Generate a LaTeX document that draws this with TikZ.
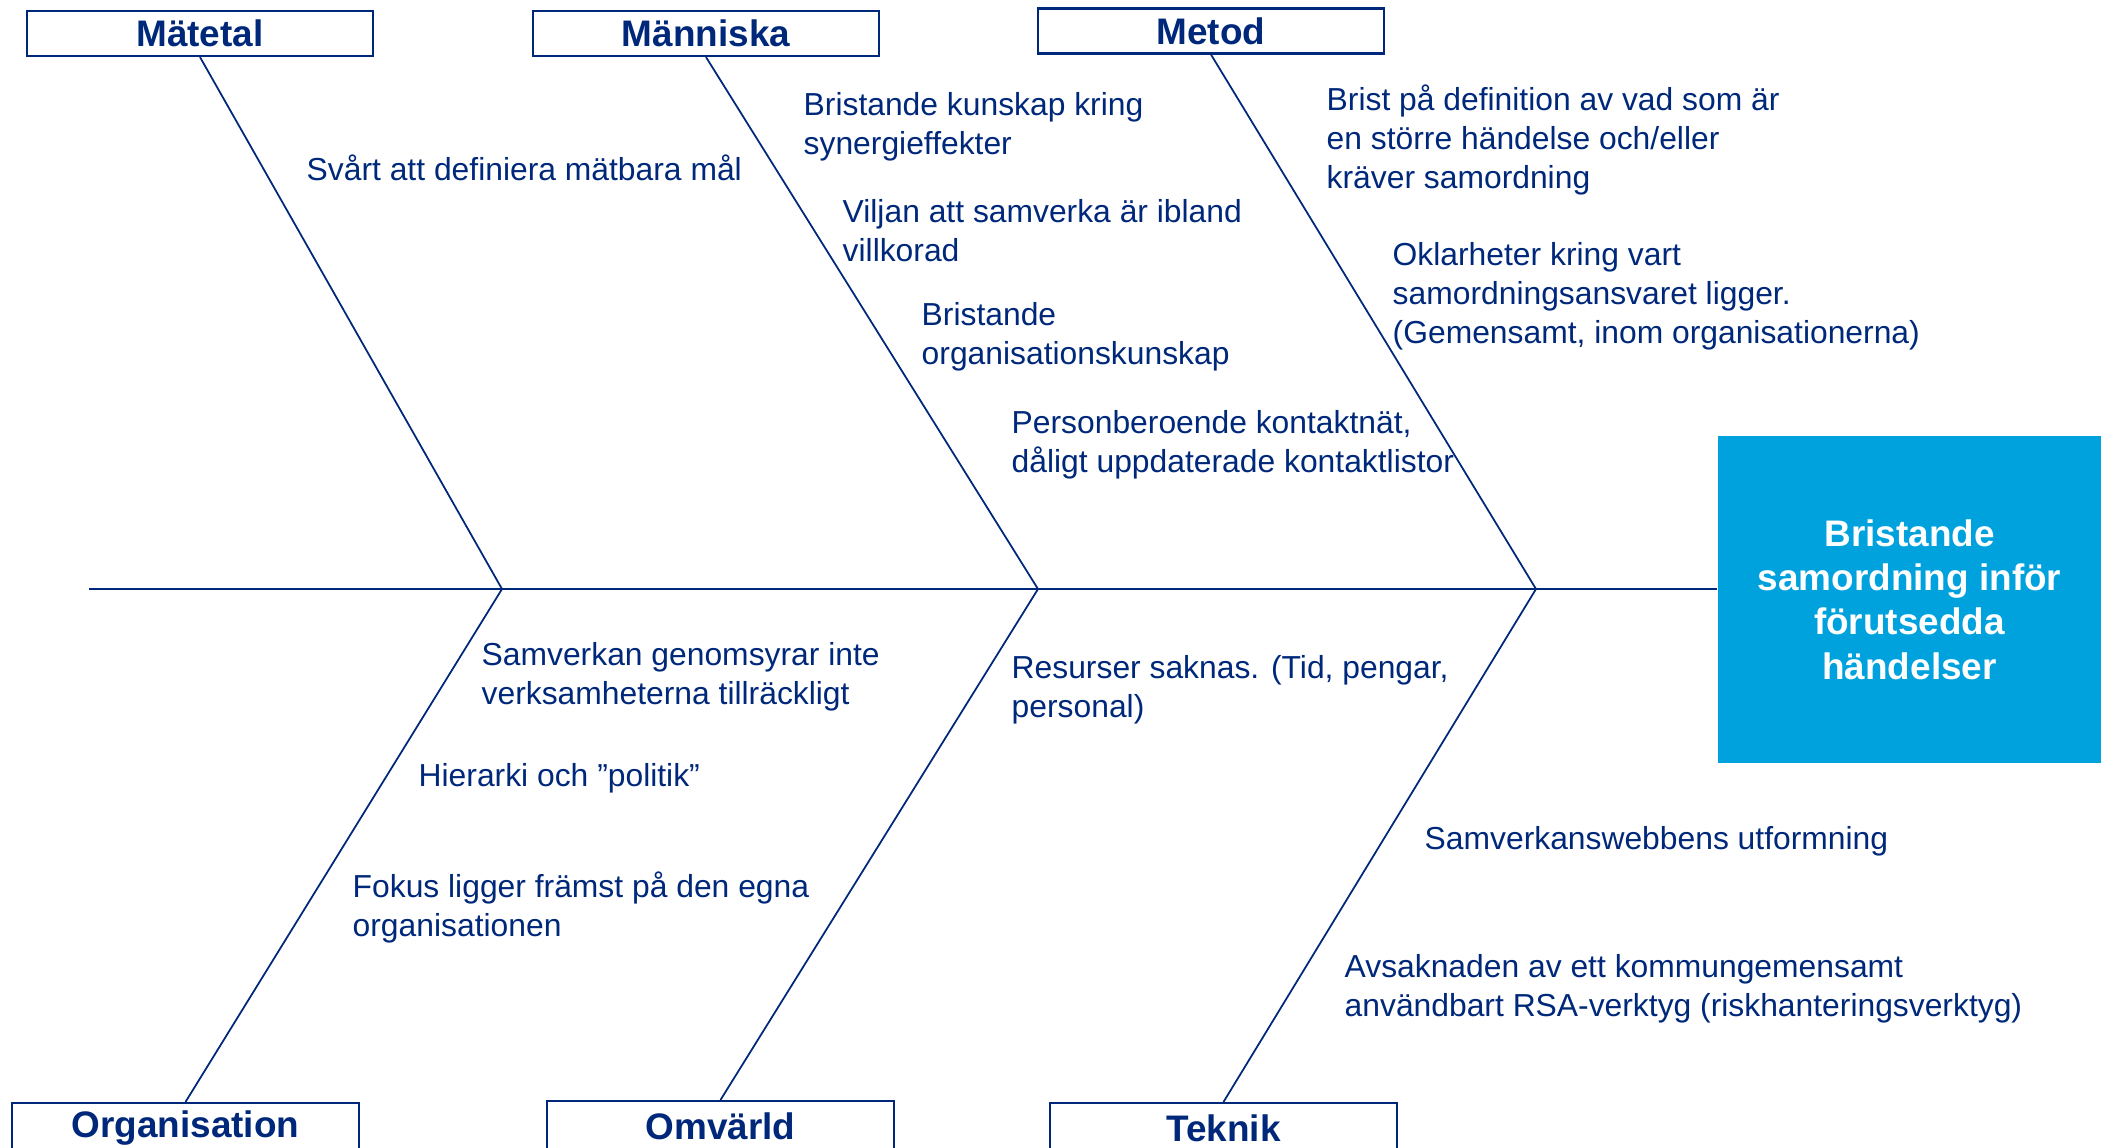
\documentclass[tikz,border=0pt]{standalone}
\usepackage{fontspec}
\setmainfont{Liberation Sans}
\definecolor{navy}{RGB}{0,40,122}
\definecolor{himmel}{RGB}{0,162,222}
\begin{document}
\begin{tikzpicture}[x=0.01cm,y=-0.01cm,
        rubrik/.style={draw=navy,line width=0.6pt,fill=white,minimum width=3.46cm,minimum height=0.45cm,inner sep=0,text=navy,font=\fontsize{10.5}{12}\selectfont\bfseries},
        orsak/.style={text=navy,align=left,inner sep=0,anchor=west,font=\fontsize{9.05}{11.1}\selectfont},
        ben/.style={navy,line width=0.5pt}]
            \useasboundingbox (0,0) rectangle (2105,1147);
            % huvudet
            \node[fill=himmel,minimum width=3.83cm,minimum height=3.27cm,text=white,align=center,font=\fontsize{10.5}{12.6}\selectfont\bfseries] (problem) at (1909.5,599.5) {Bristande\\samordning inför\\förutsedda\\händelser};
            % kategorier
            \node[rubrik] (matetal) at (200,33.5) {Mätetal};
            \node[rubrik] (manniska) at (706,33.5) {Människa};
            \node[rubrik] (metod) at (1211,31) {Metod};
            \node[rubrik,minimum height=0.5cm] (organisation) at (185.5,1128) {Organisation};
            \node[rubrik,minimum height=0.5cm] (omvarld) at (720.5,1126) {Omvärld};
            \node[rubrik,minimum height=0.5cm] (teknik) at (1223.5,1128) {Teknik};
            % ryggen och benen
            \coordinate (svans) at (89,589);
            \coordinate (m1) at (502,589);
            \coordinate (m2) at (1038,589);
            \coordinate (m3) at (1536,589);
            \draw[ben] (svans) -- (svans -| problem.west);
            \draw[ben] (matetal.south) -- (m1) -- (organisation.north);
            \draw[ben] (manniska.south) -- (m2) -- (omvarld.north);
            \draw[ben] (metod.south) -- (m3) -- (teknik.north);
            % orsaker ovanfor
            \node[orsak] (o1) at (306,168) {Svårt att definiera mätbara mål};
            \node[orsak] (o2) at (803,127) {Bristande kunskap kring\\synergieffekter};
            \node[orsak] (o3) at (842,231) {Viljan att samverka är ibland\\villkorad};
            \node[orsak] (o4) at (921,337) {Bristande\\organisationskunskap};
            \node[orsak] (o5) at (1011,445) {Personberoende kontaktnät,\\dåligt uppdaterade kontaktlistor};
            \node[orsak] (o6) at (1326,140) {Brist på definition av vad som är\\en större händelse och/eller\\kräver samordning};
            \node[orsak] (o7) at (1392,296) {Oklarheter kring vart\\samordningsansvaret ligger.\\(Gemensamt, inom organisationerna)};
            % orsaker nedanfor
            \node[orsak] (u1) at (481,677) {Samverkan genomsyrar inte\\verksamheterna tillräckligt};
            \node[orsak] (u2) at (418,778) {Hierarki och ”politik”};
            \node[orsak] (u3) at (352,907) {Fokus ligger främst på den egna\\organisationen};
            \node[orsak] (u4) at (1011,690) {Resurser saknas. (Tid, pengar,\\personal)};
            \node[orsak] (u5) at (1424,841) {Samverkanswebbens utformning};
            \node[orsak] (u6) at (1344,989) {Avsaknaden av ett kommungemensamt\\användbart RSA-verktyg (riskhanteringsverktyg)};
        \end{tikzpicture}
\end{document}
